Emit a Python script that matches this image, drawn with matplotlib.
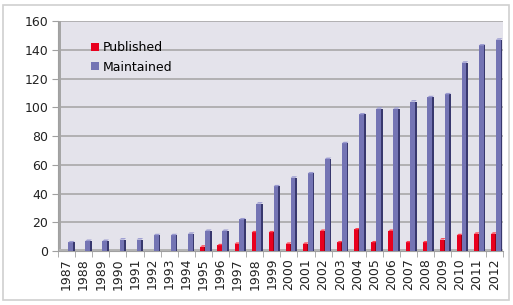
import matplotlib
matplotlib.use("Agg")
import matplotlib.pyplot as plt
from matplotlib.patches import Rectangle, Polygon
import numpy as np

years = [str(y) for y in range(1987, 2013)]
published = [0, 0, 0, 0, 0, 0, 0, 0, 3, 4, 5, 13, 13, 5, 5, 14, 6, 15, 6, 14, 6, 6, 8, 11, 12, 12]
maintained = [6, 7, 7, 8, 8, 11, 11, 12, 14, 14, 22, 33, 45, 51, 54, 64, 75, 95, 99, 99, 104, 107, 109, 131, 143, 147]
yticks = [0, 20, 40, 60, 80, 100, 120, 140, 160]

fig = plt.figure(figsize=(5.13, 3.05), dpi=100)
fig.patch.set_facecolor("white")
fig.add_artist(Rectangle((0.005, 0.015), 0.988, 0.968, transform=fig.transFigure,
                         fill=False, edgecolor="#d0d0d0", linewidth=1.2))

ax = fig.add_axes([0.113, 0.177, 0.867, 0.754])
ax.set_facecolor("#e4e3eb")
x = np.arange(len(years))

# 3D-like bars: front face + darker side + top
def bars(xpos, vals, w, face, side, top, label):
    ax.bar(xpos, vals, width=w, color=face, edgecolor="none", label=label, zorder=3)
    d = 0.1
    for xi, v in zip(xpos, vals):
        if v <= 0:
            continue
        ax.add_patch(Rectangle((xi + w / 2, 0), d, v, facecolor=side, edgecolor="none", zorder=3))
        ax.add_patch(Polygon([(xi - w / 2, v), (xi + w / 2, v), (xi + w / 2 + d, v + 1.0),
                              (xi - w / 2 + d, v + 1.0)], closed=True, facecolor=top,
                             edgecolor="none", zorder=3))

bars(x - 0.06, published, 0.24, "#e8001e", "#9e0012", "#ff4050", "Published")
bars(x + 0.24, maintained, 0.28, "#7474b4", "#38386e", "#9a9ad0", "Maintained")

ax.set_xlim(-0.5, len(years) - 0.5)
ax.set_ylim(0, 160)
ax.set_yticks(yticks)
ax.set_yticklabels([str(t) for t in yticks], fontsize=9, color="#222222")
ax.set_xticks(x)
ax.set_xticklabels(years, rotation=90, fontsize=9, color="#222222")
ax.set_xticks(np.arange(-0.5, len(years), 1), minor=True)
ax.tick_params(axis="x", which="major", length=0, pad=5)
ax.tick_params(axis="x", which="minor", length=4, color="#a0a0a0")
ax.tick_params(axis="y", length=4, color="#a0a0a0", pad=3)
for t in yticks[1:]:
    ax.axhline(t, color="#a8a8a8", linewidth=1.2, zorder=1)

# left wall and floor shading
ax.add_patch(Rectangle((-0.5, 0), 0.17, 160, facecolor="#a6a6a6", edgecolor="none", zorder=2))
ax.add_patch(Rectangle((-0.5, 0), len(years), 1.6, facecolor="#b4b4b4", edgecolor="none", zorder=2))

for s in ["top", "right"]:
    ax.spines[s].set_visible(False)
ax.spines["left"].set_color("#a0a0a0")
ax.spines["bottom"].set_color("#a0a0a0")

leg = ax.legend(loc="upper left", bbox_to_anchor=(0.05, 0.96), frameon=False, fontsize=9,
                handlelength=0.6, handleheight=0.6, handletextpad=0.3, labelspacing=0.5)

fig.savefig("out.png", dpi=100)
